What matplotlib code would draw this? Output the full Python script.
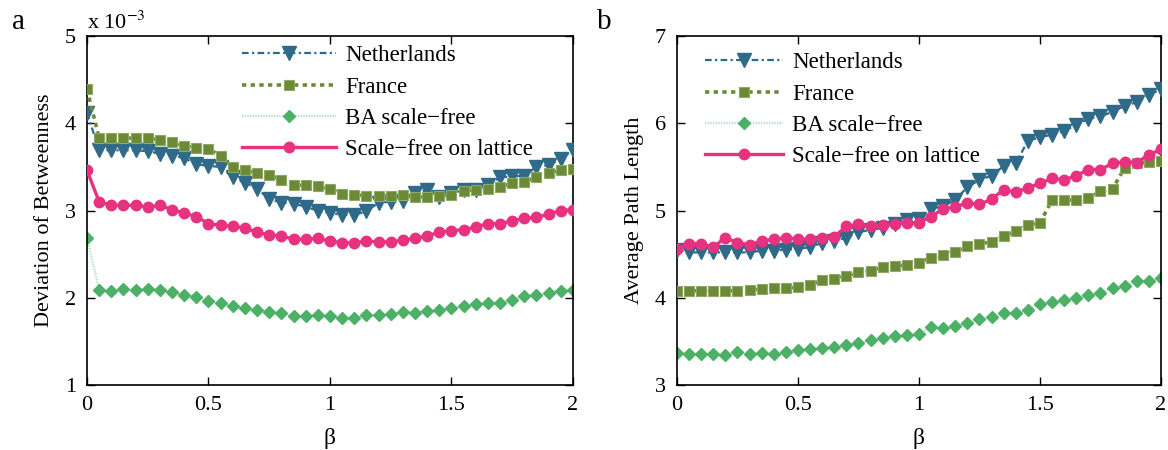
import matplotlib

matplotlib.use("Agg")
import matplotlib.pyplot as plt
import numpy as np

plt.rcParams["font.family"] = ["Liberation Serif", "DejaVu Serif"]
plt.rcParams["mathtext.fontset"] = "stix"

beta = np.round(np.arange(41) * 0.05, 2)

# panel a: deviation of betweenness (x 1e-3)
dev_netherlands = [4.12,
                   3.69, 3.69, 3.69, 3.69, 3.68, 3.65, 3.63, 3.60, 3.53, 3.51, 3.50, 3.38, 3.32,
                   3.25, 3.13, 3.09, 3.08, 3.04, 3.00, 2.97, 2.95, 2.95, 2.99, 3.09, 3.10, 3.11,
                   3.20, 3.23, 3.16, 3.20, 3.23, 3.24, 3.29, 3.38, 3.39, 3.40, 3.50, 3.52, 3.59, 3.69]
dev_france = [4.39,
              3.83, 3.83, 3.83, 3.83, 3.83, 3.81, 3.79, 3.74, 3.72, 3.71, 3.62, 3.50, 3.46,
              3.43, 3.41, 3.35, 3.29, 3.29, 3.28, 3.25, 3.19, 3.18, 3.17, 3.17, 3.17, 3.18,
              3.15, 3.16, 3.17, 3.18, 3.22, 3.24, 3.25, 3.27, 3.31, 3.33, 3.38, 3.43, 3.46, 3.48]
dev_ba = [2.69,
          2.09, 2.08, 2.10, 2.09, 2.10, 2.09, 2.07, 2.03, 2.01, 1.96, 1.94, 1.90, 1.88,
          1.86, 1.84, 1.83, 1.79, 1.79, 1.80, 1.79,
          1.77, 1.77, 1.80, 1.80, 1.81, 1.84, 1.83, 1.85, 1.86, 1.88,
          1.91, 1.93, 1.94, 1.94, 1.97, 2.02, 2.03, 2.06, 2.08, 2.09]
dev_lattice = [3.46,
               3.10, 3.06, 3.06, 3.06, 3.04, 3.06, 3.01, 2.97, 2.93, 2.85, 2.83, 2.82, 2.80,
               2.75, 2.72, 2.71, 2.67, 2.67, 2.68, 2.65, 2.63, 2.63, 2.65, 2.64, 2.64, 2.66,
               2.68, 2.71, 2.75, 2.77, 2.78, 2.81, 2.85, 2.85, 2.88, 2.91, 2.92, 2.96, 3.00, 3.01]

# panel b: average path length
apl_netherlands = [4.55, 4.52, 4.52, 4.52, 4.52, 4.52, 4.52,
                   4.54, 4.54, 4.55, 4.56, 4.58, 4.63, 4.65,
                   4.69, 4.75, 4.78, 4.80, 4.85, 4.89, 4.90,
                   5.02, 5.05, 5.12, 5.27, 5.35, 5.40,
                   5.51, 5.54, 5.80, 5.84, 5.87, 5.91, 5.98, 6.05, 6.08, 6.13, 6.20, 6.24, 6.32, 6.39]
apl_france = [4.08, 4.08, 4.08, 4.08, 4.08, 4.08,
              4.09, 4.10, 4.11, 4.11, 4.12, 4.15, 4.20, 4.22,
              4.25, 4.29, 4.31, 4.35, 4.36, 4.38, 4.40,
              4.46, 4.49, 4.53, 4.59, 4.62, 4.64,
              4.71, 4.76, 4.83, 4.86, 5.12, 5.12, 5.12, 5.14, 5.22, 5.25, 5.49, 5.54, 5.56, 5.57]
apl_ba = [3.37, 3.35, 3.36, 3.36, 3.34, 3.38, 3.36, 3.37, 3.36, 3.38, 3.40, 3.41, 3.43, 3.44,
          3.46, 3.48, 3.52, 3.54, 3.56, 3.57, 3.58,
          3.66, 3.65, 3.68, 3.71, 3.76, 3.78,
          3.83, 3.83, 3.86, 3.93, 3.95, 3.97, 4.00, 4.03, 4.06, 4.11, 4.13, 4.19, 4.19, 4.23]
apl_lattice = [4.56, 4.62, 4.62, 4.58, 4.69, 4.63, 4.61, 4.65, 4.67, 4.69, 4.67, 4.67, 4.69, 4.70,
               4.82, 4.84, 4.82, 4.83, 4.84, 4.86, 4.86,
               4.93, 5.02, 5.04, 5.09, 5.07, 5.13,
               5.24, 5.21, 5.26, 5.31, 5.37, 5.35, 5.40, 5.47, 5.47, 5.54, 5.56, 5.55, 5.64, 5.70]

labels = ["Netherlands", "France", "BA scale\u2212free", "Scale\u2212free on lattice"]
xticks = [0, 0.5, 1, 1.5, 2]
xticklabels = ["0", "0.5", "1", "1.5", "2"]

C_NL = "#2f6a88"
C_FR = "#6a8a35"
C_BA = "#4cb066"
C_LAT = "#e6327f"


def draw(ax, nl, fr, ba, lat):
    ax.plot(beta, nl, linestyle=(0, (3, 1.5, 1, 1.5)), lw=1.6, color=C_NL,
            marker="v", ms=9.5, mec=C_NL, label=labels[0], zorder=3)
    ax.plot(beta, fr, linestyle=(0, (1.2, 1.2)), lw=2.6, color=C_FR,
            marker="s", ms=7, mec="#8fa868", mew=0.8, label=labels[1], zorder=3)
    ax.plot(beta, ba, linestyle=(0, (0.6, 0.6)), lw=1.6, color="#b6e0c0",
            marker="D", ms=6.5, mfc=C_BA, mec=C_BA, label=labels[2], zorder=2)
    ax.plot(beta, lat, linestyle="-", lw=2.4, color=C_LAT,
            marker="o", ms=7.5, mec=C_LAT, label=labels[3], zorder=4)
    ax.set_xlim(0, 2)
    ax.set_xticks(xticks)
    ax.set_xticklabels(xticklabels)
    ax.tick_params(direction="in", top=True, right=True, labelsize=16, length=6,
                   width=1.0, pad=8)
    for s in ax.spines.values():
        s.set_linewidth(1.2)
    ax.set_xlabel("\u03b2", fontsize=17, labelpad=9)


fig = plt.figure(figsize=(11.68, 4.5), dpi=100)
ax1 = fig.add_axes([0.0745, 0.1444, 0.416, 0.7756])
ax2 = fig.add_axes([0.5796, 0.1444, 0.4144, 0.7756])

draw(ax1, dev_netherlands, dev_france, dev_ba, dev_lattice)
ax1.set_ylim(1, 5)
ax1.set_yticks([1, 2, 3, 4, 5])
ax1.set_ylabel("Deviation of Betweenness", fontsize=16, labelpad=8)
ax1.text(0.0, 1.005, r"x 10$^{-3}$", transform=ax1.transAxes, fontsize=16,
         ha="left", va="bottom")
ax1.legend(loc="upper left", bbox_to_anchor=(0.30, 1.0), frameon=False,
           fontsize=16.5, handlelength=4.1, handletextpad=0.4, labelspacing=0.45,
           borderaxespad=0.0)

draw(ax2, apl_netherlands, apl_france, apl_ba, apl_lattice)
ax2.set_ylim(3, 7)
ax2.set_yticks([3, 4, 5, 6, 7])
ax2.set_ylabel("Average Path Length", fontsize=16, labelpad=8)
ax2.legend(loc="upper left", bbox_to_anchor=(0.039, 0.98), frameon=False,
           fontsize=16.5, handlelength=3.4, handletextpad=0.4, labelspacing=0.45,
           borderaxespad=0.0)

fig.text(12 / 1168, 1 - 22 / 450, "a", fontsize=21, va="center", ha="left")
fig.text(597 / 1168, 1 - 22 / 450, "b", fontsize=21, va="center", ha="left")

fig.savefig("out.png", dpi=100)
